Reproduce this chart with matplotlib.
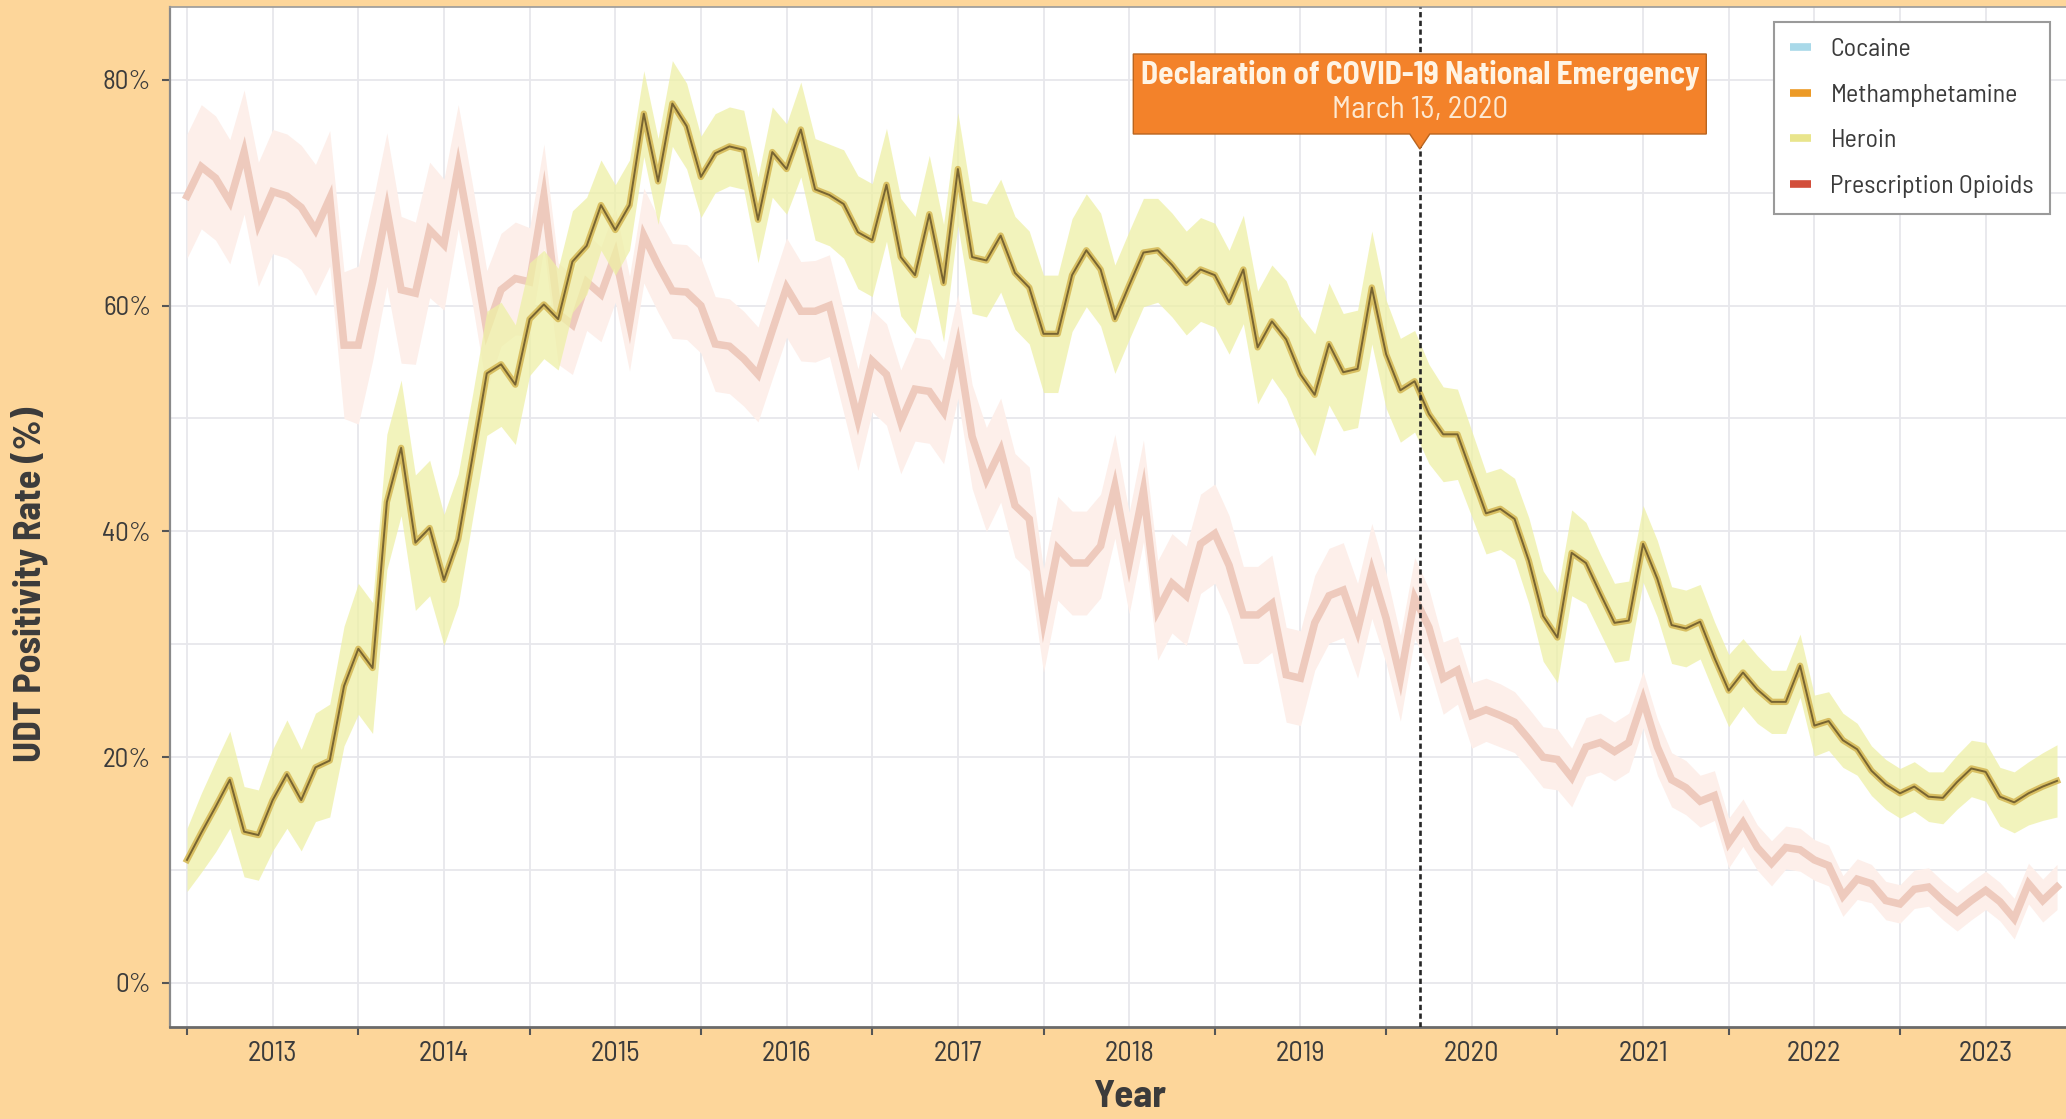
import numpy as np
import matplotlib
matplotlib.use("Agg")
import matplotlib.pyplot as plt
from matplotlib.lines import Line2D
from matplotlib.patches import Polygon
import matplotlib.transforms as mtransforms

# ---------------- data ----------------
start_year = 2013
n_months = 132  # Jan 2013 .. Dec 2023
year_labels = [str(y) for y in range(2013, 2024)]
y_ticks = [0, 20, 40, 60, 80]
y_tick_labels = ["0%", "20%", "40%", "60%", "80%"]

legend_names = ["Cocaine", "Methamphetamine", "Heroin", "Prescription Opioids"]
legend_colors = ["#A9D9E9", "#EC9A27", "#E9E58C", "#D24E3B"]

heroin = [10.9, 13.3, 15.6, 18.0, 13.4, 13.1, 16.2, 18.5, 16.2, 19.1, 19.7, 26.3,
          29.6, 27.9, 42.6, 47.4, 39.0, 40.3, 35.7, 39.3, 46.6, 54.0, 54.8, 53.0,
          58.8, 60.1, 58.8, 63.9, 65.3, 68.9, 66.7, 68.9, 77.0, 71.0, 77.9, 75.9,
          71.4, 73.5, 74.1, 73.8, 67.6, 73.6, 72.1, 75.6, 70.3, 69.8, 69.0, 66.5,
          65.8, 70.7, 64.3, 62.7, 68.1, 62.0, 72.1, 64.3, 64.0, 66.2, 62.9, 61.6,
          57.5, 57.5, 62.7, 64.9, 63.2, 58.8, 61.8, 64.7, 64.9, 63.6, 62.0, 63.2,
          62.7, 60.3, 63.2, 56.3, 58.6, 57.0, 53.9, 52.1, 56.6, 54.1, 54.4, 61.6,
          55.7, 52.5, 53.3, 50.4, 48.6, 48.6, 45.1, 41.6, 42.0, 41.1, 37.4, 32.5,
          30.6, 38.1, 37.2, 34.5, 31.9, 32.1, 38.9, 35.8, 31.7, 31.4, 32.0, 28.8,
          25.9, 27.5, 26.0, 24.9, 24.9, 28.1, 22.8, 23.2, 21.5, 20.7, 18.8, 17.6,
          16.8, 17.4, 16.5, 16.4, 17.8, 19.0, 18.7, 16.5, 16.0, 16.8, 17.4, 17.9]

heroin_ci = [2.8, 3.5, 4.0, 4.3, 4.0, 4.0, 4.5, 4.8, 4.5, 4.8, 5.0, 5.3,
             5.8, 5.8, 6.0, 6.0, 6.0, 6.0, 5.8, 5.8, 5.5, 5.5, 5.5, 5.3,
             5.0, 4.8, 4.5, 4.5, 4.3, 4.0, 4.0, 4.0, 3.8, 3.8, 3.8, 3.8,
             3.6, 3.5, 3.5, 3.5, 3.8, 4.0, 4.0, 4.2, 4.5, 4.5, 4.8, 5.0,
             5.0, 5.0, 5.2, 5.2, 5.2, 5.2, 5.0, 5.0, 5.0, 5.0, 5.0, 5.0,
             5.2, 5.2, 5.0, 5.0, 5.0, 4.8, 4.8, 4.8, 4.6, 4.6, 4.6, 4.6,
             4.6, 4.6, 4.8, 5.0, 5.0, 5.2, 5.2, 5.4, 5.4, 5.2, 5.2, 5.0,
             4.8, 4.6, 4.5, 4.4, 4.2, 4.0, 3.8, 3.6, 3.6, 3.6, 3.8, 4.0,
             4.0, 3.8, 3.6, 3.5, 3.5, 3.5, 3.4, 3.4, 3.4, 3.4, 3.3, 3.2,
             3.2, 3.0, 3.0, 2.8, 2.8, 2.8, 2.7, 2.6, 2.4, 2.3, 2.2, 2.2,
             2.2, 2.2, 2.2, 2.3, 2.4, 2.5, 2.6, 2.6, 2.7, 2.8, 3.0, 3.2]

opioids = [69.7, 72.3, 71.3, 69.2, 73.6, 67.2, 70.1, 69.7, 68.7, 66.7, 69.5, 56.5,
           56.5, 62.1, 68.5, 61.4, 61.1, 66.7, 65.4, 72.3, 65.4, 57.8, 61.4, 62.4,
           62.1, 69.7, 59.3, 58.3, 62.1, 61.0, 64.5, 58.4, 66.2, 63.6, 61.3, 61.2,
           60.0, 56.6, 56.4, 55.3, 53.9, 57.8, 61.6, 59.5, 59.5, 60.0, 55.0, 49.9,
           55.1, 53.9, 49.7, 52.6, 52.4, 50.6, 56.4, 48.4, 44.6, 47.2, 42.3, 41.1,
           32.1, 38.5, 37.2, 37.2, 38.7, 44.0, 37.2, 43.6, 33.0, 35.4, 34.3, 38.9,
           39.8, 37.0, 32.6, 32.6, 33.6, 27.3, 27.0, 31.9, 34.3, 34.8, 31.2, 36.5,
           32.3, 27.0, 34.1, 31.5, 27.0, 27.7, 23.7, 24.2, 23.7, 23.1, 21.6, 20.0,
           19.8, 18.2, 20.9, 21.3, 20.5, 21.3, 25.1, 20.9, 18.0, 17.3, 16.1, 16.6,
           12.4, 14.2, 12.0, 10.6, 12.0, 11.8, 10.9, 10.4, 7.7, 9.2, 8.8, 7.3,
           7.0, 8.3, 8.5, 7.3, 6.3, 7.3, 8.2, 7.2, 5.7, 8.8, 7.3, 8.5]

opioids_ci = [5.5, 5.5, 5.5, 5.5, 5.5, 5.5, 5.5, 5.5, 5.5, 5.8, 6.0, 6.5,
              7.0, 7.0, 6.8, 6.5, 6.3, 6.0, 5.8, 5.5, 5.3, 5.3, 5.0, 5.0,
              4.8, 4.6, 4.5, 4.4, 4.3, 4.2, 4.2, 4.2, 4.2, 4.2, 4.2, 4.2,
              4.2, 4.2, 4.2, 4.2, 4.2, 4.3, 4.4, 4.4, 4.5, 4.5, 4.5, 4.5,
              4.5, 4.5, 4.6, 4.6, 4.6, 4.6, 4.6, 4.6, 4.6, 4.6, 4.6, 4.6,
              4.6, 4.6, 4.6, 4.6, 4.6, 4.6, 4.5, 4.5, 4.4, 4.4, 4.4, 4.4,
              4.4, 4.4, 4.3, 4.3, 4.3, 4.2, 4.2, 4.2, 4.2, 4.2, 4.2, 4.2,
              4.0, 3.8, 3.6, 3.4, 3.2, 3.0, 2.9, 2.8, 2.8, 2.7, 2.7, 2.7,
              2.7, 2.6, 2.6, 2.6, 2.6, 2.6, 2.5, 2.5, 2.4, 2.4, 2.3, 2.2,
              2.2, 2.1, 2.0, 2.0, 1.9, 1.9, 1.8, 1.8, 1.8, 1.8, 1.7, 1.7,
              1.7, 1.7, 1.7, 1.7, 1.7, 1.7, 1.7, 1.7, 1.8, 1.8, 1.9, 2.0]

event_title = "Declaration of COVID-19 National Emergency"
event_sub = "March 13, 2020"
event_x = 2020 + 72 / 366.0

# ---------------- fonts ----------------
FAM = ["Barlow Semi Condensed", "DejaVu Sans"]
plt.rcParams["font.family"] = FAM

TXT = "#3b3b3b"
BG = "#FDD69A"
W, H = 2066, 1119

fig = plt.figure(figsize=(W / 100, H / 100), dpi=100, facecolor=BG)
ax_left, ax_right, ax_top, ax_bot = 170, 2066, 7, 1027
ax = fig.add_axes([ax_left / W, 1 - ax_bot / H, (ax_right - ax_left) / W, (ax_bot - ax_top) / H])
ax.set_facecolor("white")

x = start_year + np.arange(n_months) / 12.0
h = np.array(heroin)
hc = np.array(heroin_ci)
o = np.array(opioids)
oc = np.array(opioids_ci)

# opioids (faded)
ax.fill_between(x, o - oc, o + oc, color="#FDEFEA", lw=0, zorder=2)
ax.plot(x, o, color="#EECABD", lw=5.4, solid_joinstyle="miter", zorder=3)
# heroin
ax.fill_between(x, h - hc, h + hc, color="#EEF0A6", alpha=0.75, lw=0, zorder=4)
ax.plot(x, h, color="#D6BA58", lw=4.6, alpha=0.9, zorder=5)
ax.plot(x, h, color="#776431", lw=1.4, zorder=6)

# limits
px_per_year = 171.3
x0_px = 187
ax.set_xlim(start_year + (ax_left - x0_px) / px_per_year, start_year + (ax_right - x0_px) / px_per_year)
ax.set_ylim(-3.9, 86.45)

# ticks
ax.set_xticks(list(range(2013, 2024)))
ax.set_xticklabels([""] * 11)
ax.set_xticks([y + 0.5 for y in range(2013, 2024)], minor=True)
ax.set_xticklabels(year_labels, minor=True)
ax.tick_params(axis="x", which="major", length=6, width=1.5, color="#555555", direction="out")
ax.tick_params(axis="x", which="minor", length=0, pad=10, labelsize=20.5, labelcolor=TXT)

ax.set_yticks(y_ticks)
ax.set_yticklabels(y_tick_labels)
ax.set_yticks([10, 30, 50, 70], minor=True)
ax.tick_params(axis="y", which="major", length=6, width=1.5, color="#555555", pad=7.5,
               labelsize=19.5, labelcolor=TXT)
ax.tick_params(axis="y", which="minor", length=0)

ax.grid(True, which="both", color="#E7E7EC", lw=1.3, zorder=0)
ax.set_axisbelow(True)

ax.spines["right"].set_visible(False)
ax.spines["left"].set_color("#8a8a8a")
ax.spines["left"].set_linewidth(1.6)
ax.spines["bottom"].set_color("#6a6a6a")
ax.spines["bottom"].set_linewidth(2.0)
ax.spines["top"].set_color("#9a9a9a")
ax.spines["top"].set_linewidth(1.2)

# event line
ax.axvline(event_x, color="#262626", lw=1.9, ls=(0, (2.0, 1.3)), zorder=7)

# callout box
tr = mtransforms.blended_transform_factory(ax.transData, ax.transAxes)
def fy(py):
    return 1 - (py - ax_top) / (ax_bot - ax_top)
half_w = 286.5 / px_per_year
tri = 10 / px_per_year
top_y, bot_y, tip_y = fy(54), fy(134), fy(149)
verts = [(event_x - half_w, top_y), (event_x + half_w, top_y), (event_x + half_w, bot_y),
         (event_x + tri, bot_y), (event_x, tip_y), (event_x - tri, bot_y), (event_x - half_w, bot_y)]
ax.add_patch(Polygon(verts, closed=True, transform=tr, facecolor="#F3822A",
                     edgecolor="#B9651F", lw=1.0, zorder=10, clip_on=False))
ax.text(event_x, fy(75), event_title, transform=tr, ha="center", va="center",
        fontsize=22.6, fontweight="bold", color="#FFF4E4", zorder=11)
ax.text(event_x, fy(110), event_sub, transform=tr, ha="center", va="center",
        fontsize=22.3, color="#FDE9D2", zorder=11)

# legend
handles = [Line2D([0], [0], color=c, lw=5.5, solid_capstyle="butt") for c in legend_colors]
leg = ax.legend(handles, legend_names, loc="upper right",
                bbox_to_anchor=(2050 / W, 1 - 22 / H), bbox_transform=fig.transFigure,
                borderaxespad=0, fontsize=18.7, frameon=True, fancybox=False,
                edgecolor="#9a9a9a", facecolor="white", framealpha=1,
                handlelength=0.8, handletextpad=0.75, labelspacing=0.86, borderpad=0.62)
leg.get_frame().set_linewidth(1.5)
for t in leg.get_texts():
    t.set_color(TXT)
leg.set_zorder(12)

# axis titles
fig.text(29 / W, 1 - 584 / H, "UDT Positivity Rate (%)", rotation=90, ha="center", va="center",
         fontsize=27.3, fontweight="bold", color=TXT)
fig.text(1130 / W, 1 - 1097 / H, "Year", ha="center", va="center",
         fontsize=28, fontweight="bold", color=TXT)

fig.savefig("out.png", dpi=100, facecolor=BG)
